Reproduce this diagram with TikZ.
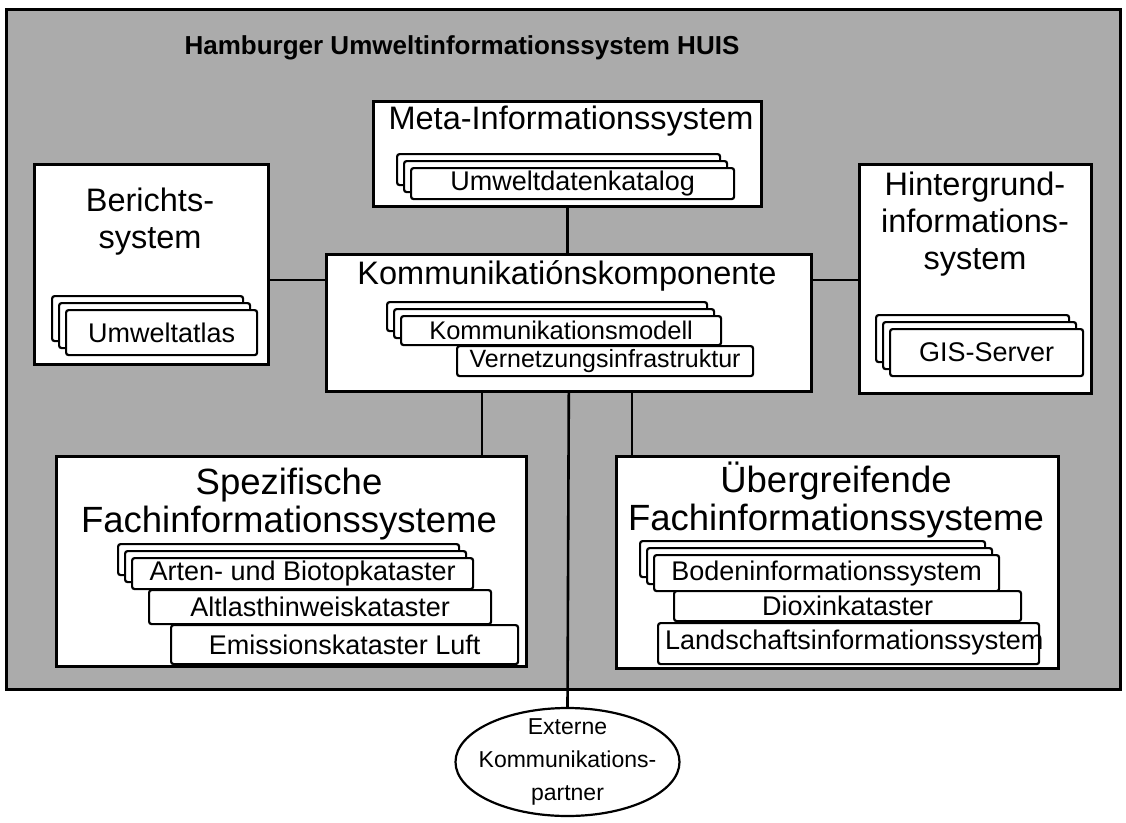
\documentclass[tikz,border=0pt]{standalone}
\usepackage{fontspec}
\setmainfont{Liberation Sans}
\usetikzlibrary{shapes.geometric}

\newcommand{\headfont}{\fontsize{32.5}{37}\selectfont}
\newcommand{\fachfont}{\fontsize{36.5}{38}\selectfont}
\newcommand{\itemfont}{\fontsize{27}{31}\selectfont}

\tikzset{
  panel/.style={draw, line width=2.6pt, fill=white, anchor=north west, inner sep=0pt},
  card/.style={draw, line width=2.2pt, fill=white, rounded corners=2.5pt, anchor=north west, inner sep=0pt, font=\itemfont},
  heading/.style={font=\headfont, align=center, inner sep=0pt, anchor=north},
  link/.style={line width=2.6pt}
}

\begin{document}
\begin{tikzpicture}[x=1pt,y=-1pt]
  \useasboundingbox (0,0) rectangle (1126,822);

  % Rahmen HUIS
  \node[panel, fill=black!33, line width=3.4pt, minimum width=1114, minimum height=680] (huis) at (5,8) {};
  \node[font=\fontsize{26}{30}\selectfont\bfseries, inner sep=0pt, anchor=base] (titel) at (462,54) {Hamburger Umweltinformationssystem HUIS};

  % Teilsysteme
  \node[panel, minimum width=388, minimum height=105] (meta) at (372,100) {};
  \node[panel, minimum width=485, minimum height=137] (komm) at (325,253) {};
  \node[panel, minimum width=234, minimum height=200] (berichts) at (33,163) {};
  \node[panel, minimum width=232, minimum height=229] (hinter) at (858,163) {};
  \node[panel, minimum width=470, minimum height=210] (spez) at (55,455) {};
  \node[panel, minimum width=442, minimum height=212] (ueber) at (615,455) {};

  \node[heading] (metatitel) at (571,106) {Meta-Informationssystem};
  \node[heading] (kommtitel) at (567,260) {Kommunikatiónskomponente};
  \node[heading] (berichtstitel) at (150,188) {Berichts-\\system};
  \node[heading] (hintertitel) at (975,172) {Hintergrund-\\informations-\\system};
  \node[heading, font=\fachfont] (speztitel) at (289,468) {Spezifische\\Fachinformationssysteme};
  \node[heading, font=\fachfont] (uebertitel) at (836,462) {Übergreifende\\Fachinformationssysteme};

  % Verbindungen
  \coordinate (seite) at (0,280);
  \coordinate (links) at (482,0);
  \coordinate (rechts) at (632,0);
  \draw[link] (meta.south) -- (meta.south |- komm.north);
  \draw[link] (berichts.east |- seite) -- (komm.west |- seite);
  \draw[link] (komm.east |- seite) -- (hinter.west |- seite);
  \draw[link] (komm.south -| links) -- (spez.north -| links);
  \draw[link] (komm.south -| rechts) -- (ueber.north -| rechts);

  \node[draw, ellipse, line width=2.2pt, fill=white, minimum width=224, minimum height=108, inner sep=0pt] (extern) at (567.5,762) {};
  \node[font=\fontsize{23}{33}\selectfont, align=center, inner sep=0pt] (externtext) at (extern) {Externe\\Kommunikations-\\partner};
  \draw[link] (komm.south) -- (extern.north);

  % Karten
  \foreach \d in {14,7}{
    \node[card, minimum width=323, minimum height=31] at ({410-\d},{167-\d}) {};
    \node[card, minimum width=320, minimum height=29] at ({400-\d},{315-\d}) {};
    \node[card, minimum width=191, minimum height=45] at ({65-\d},{309-\d}) {};
    \node[card, minimum width=193, minimum height=47] at ({889-\d},{328-\d}) {};
    \node[card, minimum width=341, minimum height=31] at ({131-\d},{557-\d}) {};
    \node[card, minimum width=345, minimum height=36] at ({653-\d},{554-\d}) {};
  }
  \node[card, minimum width=323, minimum height=31] (katalog) at (410,167) {Umweltdatenkatalog};
  \node[card, minimum width=320, minimum height=29, font=\fontsize{25.5}{30}\selectfont] (modell) at (400,315) {Kommunikationsmodell};
  \node[card, minimum width=296, minimum height=30, font=\fontsize{25}{30}\selectfont] (netz) at (456,345) {Vernetzungsinfrastruktur};
  \node[card, minimum width=191, minimum height=45] (atlas) at (65,309) {Umweltatlas};
  \node[card, minimum width=193, minimum height=47] (gis) at (889,328) {GIS-Server};
  \node[card, minimum width=341, minimum height=31] (arten) at (131,557) {Arten- und Biotopkataster};
  \node[card, minimum width=342, minimum height=34] (altlast) at (148,589) {Altlasthinweiskataster};
  \node[card, minimum width=347, minimum height=39] (emission) at (170,624) {Emissionskataster Luft};
  \node[card, minimum width=345, minimum height=36] (boden) at (653,554) {Bodeninformationssystem};
  \node[card, minimum width=347, minimum height=30] (dioxin) at (673,590) {Dioxinkataster};
  \node[card, minimum width=381, minimum height=41] (landschaft) at (657,622) {};
  \node[font=\itemfont, inner sep=0pt, anchor=west] (landschafttext) at (665,643) {Landschaftsinformationssystem};
\end{tikzpicture}
\end{document}
